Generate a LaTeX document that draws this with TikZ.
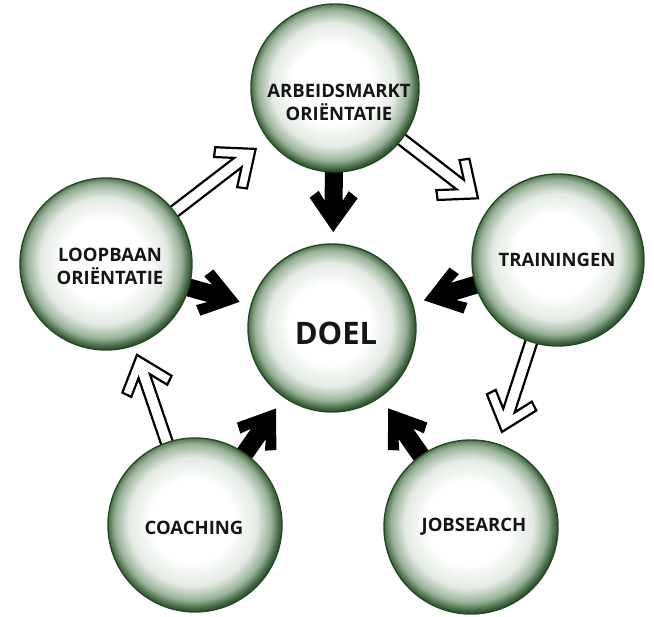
\documentclass[tikz,border=0pt]{standalone}
\usepackage{fontspec}
\setmainfont{Open Sans}
\usetikzlibrary{calc}
\definecolor{rim}{RGB}{36,74,36}
\definecolor{gA}{RGB}{226,234,226}
\definecolor{gB}{RGB}{150,178,150}
\definecolor{gC}{RGB}{72,110,72}
\definecolor{txt}{RGB}{22,22,22}
\pgfdeclareradialshading{glow}{\pgfpoint{-1bp}{1.5bp}}{color(0bp)=(white); color(12bp)=(white); color(18.5bp)=(gA); color(22.5bp)=(gB); color(24.5bp)=(gC); color(25.8bp)=(rim); color(50bp)=(rim)}
\pgfdeclarelayer{bg}
\pgfsetlayers{bg,main}
% solid chevron arrow: #1 source node, #2 target node, #3 start distance from source centre, #4 tip distance from target centre
\newcommand\solidarrow[4]{%
  \path ($(#1.center)!#3!(#2.center)$) coordinate (as)
        ($(#2.center)!#4!(#1.center)$) coordinate (at);
  \path ($(at)!34pt!(as)$) coordinate (ah1)
        ($(at)!41pt!(as)$) coordinate (ah2)
        ($(at)!31pt!(as)$) coordinate (ah3);
  \fill[blackarrow] (at) -- ($(ah1)!24pt!90:(at)$) -- ($(ah2)!15pt!90:(at)$) -- ($(ah3)!9pt!90:(at)$)
     -- ($(as)!9pt!90:(at)$) -- ($(as)!9pt!-90:(at)$) -- ($(ah3)!9pt!-90:(at)$)
     -- ($(ah2)!15pt!-90:(at)$) -- ($(ah1)!24pt!-90:(at)$) -- cycle;
}
% hollow arrow
\newcommand\hollowarrow[4]{%
  \path ($(#1.center)!#3!(#2.center)$) coordinate (bs)
        ($(#2.center)!#4!(#1.center)$) coordinate (bt);
  \path ($(bt)!31pt!(bs)$) coordinate (bh1)
        ($(bt)!38pt!(bs)$) coordinate (bh2)
        ($(bt)!22.5pt!(bs)$) coordinate (bh3);
  \draw[hollowarrow] (bt) -- ($(bh1)!26pt!90:(bt)$) -- ($(bh2)!19pt!90:(bt)$) -- ($(bh3)!6pt!90:(bt)$)
     -- ($(bs)!6pt!90:(bt)$) -- ($(bs)!6pt!-90:(bt)$) -- ($(bh3)!6pt!-90:(bt)$)
     -- ($(bh2)!19pt!-90:(bt)$) -- ($(bh1)!26pt!-90:(bt)$) -- cycle;
}
\begin{document}
\begin{tikzpicture}[x=1pt,y=-1pt,
  ball/.style={circle, inner sep=0pt, draw=rim, line width=1.4pt, shade, shading=glow},
  lab/.style={align=center, text=txt, inner sep=0pt, font=\fontsize{18.5}{23}\selectfont\bfseries},
  biglab/.style={text=txt, inner sep=0pt, font=\fontsize{31}{36}\selectfont\bfseries},
  blackarrow/.style={fill=black},
  hollowarrow/.style={fill=white, draw=black, line width=2.2pt, line join=miter}]
\useasboundingbox (0,0) rectangle (654,617);

\node[ball, minimum size=168pt] (arb) at (335,88) {};
\node[ball, minimum size=172pt] (loop) at (106,264) {};
\node[ball, minimum size=172pt] (train) at (558,260) {};
\node[ball, minimum size=168pt] (doel) at (332,328) {};
\node[ball, minimum size=174pt] (coach) at (195,525) {};
\node[ball, minimum size=174pt] (job) at (471,527) {};

\node[lab] (arbT) at (339,102) {ARBEIDSMARKT\\ORIËNTATIE};
\node[lab] (loopT) at (110,266) {LOOPBAAN\\ORIËNTATIE};
\node[lab] (trainT) at (557,260) {TRAININGEN};
\node[biglab] (doelT) at (336,333) {DOEL};
\node[lab] (coachT) at (194,528) {COACHING};
\node[lab] (jobT) at (474,527) {JOBSEARCH};

\begin{pgfonlayer}{bg}
\solidarrow{arb}{doel}{70pt}{96pt}
\solidarrow{loop}{doel}{72pt}{96pt}
\solidarrow{train}{doel}{72pt}{96pt}
\solidarrow{coach}{doel}{73pt}{98pt}
\solidarrow{job}{doel}{73pt}{98pt}
\hollowarrow{loop}{arb}{74pt}{100pt}
\hollowarrow{arb}{train}{72pt}{101pt}
\hollowarrow{train}{job}{74pt}{100pt}
\hollowarrow{coach}{loop}{75pt}{96pt}
\end{pgfonlayer}
\end{tikzpicture}
\end{document}
